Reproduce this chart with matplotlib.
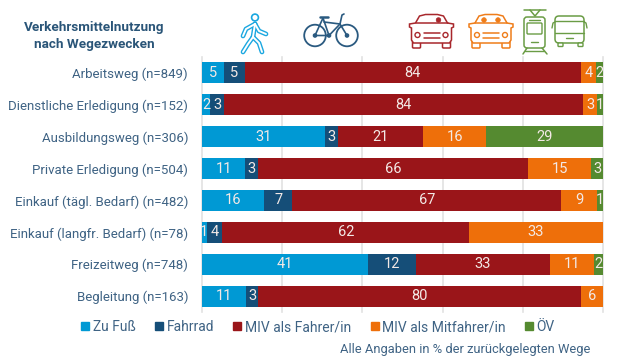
import matplotlib
matplotlib.use("Agg")
import matplotlib.pyplot as plt
from matplotlib.patches import Circle, FancyBboxPatch, Patch

plt.rcParams["font.family"] = ["Roboto", "DejaVu Sans"]

# wege (von oben nach unten)
categories = [
    "Arbeitsweg (n=849)",
    "Dienstliche Erledigung (n=152)",
    "Ausbildungsweg (n=306)",
    "Private Erledigung (n=504)",
    "Einkauf (tägl. Bedarf) (n=482)",
    "Einkauf (langfr. Bedarf) (n=78)",
    "Freizeitweg (n=748)",
    "Begleitung (n=163)",
]
series = ["Zu Fuß", "Fahrrad", "MIV als Fahrer/in", "MIV als Mitfahrer/in", "ÖV"]

# balkenlaengen, aus dem bild gelesen
zu_fuss = [5.4, 2.1, 30.7, 10.8, 15.5, 1.2, 41.3, 11.0]
fahrrad = [5.2, 3.5, 3.3, 3.1, 7.0, 3.9, 12.0, 3.0]
miv_fahrer = [84.0, 89.5, 21.2, 67.4, 67.1, 61.5, 33.5, 80.5]
miv_mitfahrer = [3.6, 3.5, 15.6, 15.8, 9.0, 33.4, 10.9, 5.5]
oev = [1.8, 1.4, 29.2, 2.9, 1.4, 0.0, 2.3, 0.0]

# beschriftungen in den balken
labels_zu_fuss = ["5", "2", "31", "11", "16", "1", "41", "11"]
labels_fahrrad = ["5", "3", "3", "3", "7", "4", "12", "3"]
labels_miv_fahrer = ["84", "84", "21", "66", "67", "62", "33", "80"]
labels_miv_mitfahrer = ["4", "3", "16", "15", "9", "33", "11", "6"]
labels_oev = ["2", "1", "29", "3", "1", "", "2", ""]

colors = ["#0099d4", "#154e78", "#9a1519", "#ee6f0a", "#558a30"]
text_color = "#3f6384"

W, H = 619, 361
fig = plt.figure(figsize=(W / 100, H / 100), dpi=100)
ax = fig.add_axes([202 / W, 1 - 312 / H, 401 / W, 255 / H])

values = [zu_fuss, fahrrad, miv_fahrer, miv_mitfahrer, oev]
labels = [labels_zu_fuss, labels_fahrrad, labels_miv_fahrer, labels_miv_mitfahrer, labels_oev]
left = [0.0] * len(categories)
for name, vals, labs, col in zip(series, values, labels, colors):
    bars = ax.barh(categories, vals, left=left, height=0.66, color=col, label=name)
    ax.bar_label(bars, labels=labs, label_type="center", color="#f3e9e6", fontsize=10.5)
    left = [a + b for a, b in zip(left, vals)]

ax.set_xlim(0, 100)
ax.set_ylim(7.5, -0.5)
ax.set_xticks(range(0, 101, 20))
ax.tick_params(axis="x", length=0, labelbottom=False)
ax.tick_params(axis="y", length=0, pad=10, labelsize=9.5, labelcolor=text_color)
ax.grid(axis="x", color="#e1e1e1", linewidth=1.2)
ax.set_axisbelow(True)
for s in ax.spines.values():
    s.set_visible(False)
for line in ax.get_xgridlines():
    line.set_clip_on(False)

handles = [Patch(color=c, label=n) for c, n in zip(colors, series)]
fig.legend(
    handles=handles, loc="center left", bbox_to_anchor=(81 / W, 1 - 327 / H), ncol=5,
    frameon=False, fontsize=10, labelcolor=text_color, handlelength=0.58, handleheight=0.58,
    handletextpad=0.25, columnspacing=1.4, borderpad=0, borderaxespad=0,
)

fig.text(590 / W, 1 - 349 / H, "Alle Angaben in % der zurückgelegten Wege",
         ha="right", va="center", color=text_color, fontsize=9.3)
fig.text(94 / W, 1 - 36 / H, "Verkehrsmittelnutzung\nnach Wegezwecken", ha="center", va="center",
         color="#2a5578", fontsize=9.7, fontweight="bold", linespacing=1.35)

# icons in pixelkoordinaten
ic = fig.add_axes([0, 0, 1, 1], zorder=5)
ic.set_xlim(0, W)
ic.set_ylim(H, 0)
ic.axis("off")


def stroke(xs, ys, col, lw=1.1):
    ic.plot(xs, ys, color=col, lw=lw, solid_capstyle="round", solid_joinstyle="round")


def box(x, y, w, h, col, r=2, lw=1.1):
    ic.add_patch(FancyBboxPatch((x + r, y + r), w - 2 * r, h - 2 * r, boxstyle=f"round,pad={r}",
                                fc="white", ec=col, lw=lw))


def walker(col):
    ic.add_patch(Circle((255, 17.5), 3.4, fc="white", ec=col, lw=1.2))
    limbs = [([255, 253], [24, 37]), ([253, 248, 243], [37, 44, 52]), ([253, 259, 262], [37, 43, 52]),
             ([255, 259, 266], [24, 31, 34]), ([255, 246, 243], [24, 29, 36])]
    for xs, ys in limbs:
        stroke(xs, ys, col, lw=3.4)
    for xs, ys in limbs:
        stroke(xs, ys, "white", lw=1.4)


def bike(col):
    for cx in (315, 347):
        ic.add_patch(Circle((cx, 35.5), 10.8, fc="none", ec=col, lw=1.3))
    stroke([315, 329, 323, 315], [35.5, 35.5, 18, 35.5], col, 1.2)
    stroke([329, 340, 347], [35.5, 24, 35.5], col, 1.2)
    stroke([324, 340], [22, 24], col, 1.2)
    stroke([340, 342, 344], [24, 15, 14], col, 1.2)
    stroke([320, 328], [17, 17], col, 1.8)
    for cx in (315, 329, 347):
        ic.add_patch(Circle((cx, 35.5), 1.6, fc=col, ec=col))


def car(cx, col, seats):
    for sx in (-1, 1):
        box(cx + sx * 15 - 4, 41, 8, 7, col, r=1)
    xs = [-16, -12, -6, 6, 12, 16, 22, 22, 20, 20, 18, -18, -20, -20, -22, -22, -16]
    ys = [23, 16, 14.5, 14.5, 16, 23, 24, 27, 28, 40, 43, 43, 40, 28, 27, 24, 23]
    ic.fill([cx + x for x in xs], ys, fc="white", ec=col, lw=1.1)
    stroke([cx - 16, cx + 16], [23, 23], col)
    for sx in (-1, 1):
        ic.add_patch(Circle((cx + sx * 14, 35), 2.5, fc="white", ec=col, lw=1.0))
    stroke([cx - 8, cx + 8], [33, 33], col)
    stroke([cx - 8, cx + 8], [38, 38], col)
    for s in seats:
        ic.add_patch(Circle((cx + s, 20), 2.3, fc=col, ec=col, lw=0.5))


def tram(col):
    stroke([524, 546], [10, 10], col)
    stroke([530, 535, 540], [10, 16, 10], col)
    box(524, 17, 21, 31, col, r=3)
    box(527, 23, 15, 11, col, r=1, lw=1.0)
    stroke([529, 540], [20, 20], col, 1.0)
    stroke([531, 538], [42, 42], col, 1.0)
    stroke([527, 523], [48, 54], col)
    stroke([542, 547], [48, 54], col)
    stroke([525, 544], [51, 51], col, 1.0)


def bus(col):
    box(555, 16, 29, 27, col, r=4)
    stroke([555, 584], [33, 33], col, 1.0)
    stroke([555, 584], [21, 21], col, 1.0)
    stroke([555, 553, 552], [22, 23, 28], col, 1.0)
    stroke([584, 586, 587], [22, 23, 28], col, 1.0)
    stroke([566, 573], [38, 38], col, 1.0)
    for x in (558, 578):
        box(x, 43, 5, 3.5, col, r=0.8, lw=1.0)


walker("#1aa7e0")
bike("#2a5a80")
car(431.5, "#a8272c", [7])
car(491, "#ef7d1a", [-7, 7])
tram("#6a9c45")
bus("#6a9c45")

fig.savefig("out.png", dpi=100)
